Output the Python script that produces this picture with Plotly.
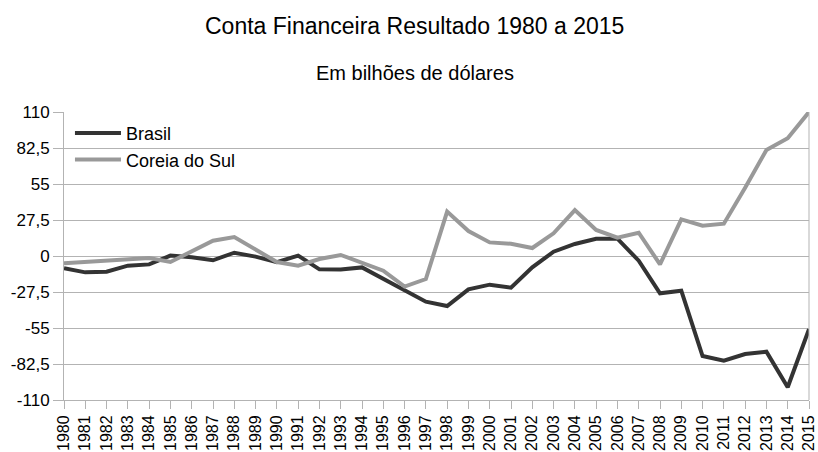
import plotly.graph_objects as go

years = list(range(1980, 2016))
brasil = [-9.4, -12.5, -12.0, -7.4, -6.4, 0.3, -1.0, -3.3, 2.5, -0.5, -4.8, 0.3,
          -10.2, -10.4, -8.7, -17.6, -26.7, -34.9, -38.2, -25.5, -21.9, -24.2, -8.7, 3.3,
          9.2, 13.2, 13.2, -3.6, -28.5, -26.5, -76.4, -80.0, -74.9, -73.1, -100.3, -56.0]
coreia = [-5.6, -4.6, -4.0, -3.0, -1.5, -4.6, 3.3, 11.7, 14.5, 4.6, -4.6, -7.4,
          -2.3, 0.8, -5.6, -11.2, -23.4, -17.6, 33.9, 19.1, 10.4, 9.4, 6.1, 17.3,
          35.1, 19.9, 14.0, 17.8, -6.4, 28.0, 23.2, 24.7, 52.2, 81.0, 89.9, 110.0]
ytick_vals = [-110, -82.5, -55, -27.5, 0, 27.5, 55, 82.5, 110]
ytick_text = ["-110", "-82,5", "-55", "-27,5", "0", "27,5", "55", "82,5", "110"]

title = "Conta Financeira Resultado 1980 a 2015"
subtitle = "Em bilhões de dólares"

fig = go.Figure()
fig.add_trace(go.Scatter(x=years, y=brasil, mode="lines", name="Brasil",
                         line=dict(color="#333333", width=4)))
fig.add_trace(go.Scatter(x=years, y=coreia, mode="lines", name="Coreia do Sul",
                         line=dict(color="#999999", width=4)))

grid = "#b3b3b3"
fig.update_layout(
    width=818, height=452,
    margin=dict(l=64, r=9, t=112, b=52, autoexpand=False),
    paper_bgcolor="white", plot_bgcolor="white",
    font=dict(family="Liberation Sans, Arial, sans-serif", color="black", size=17),
    showlegend=True,
    legend=dict(x=0.008, y=0.99, xanchor="left", yanchor="top",
                bgcolor="rgba(0,0,0,0)", font=dict(size=18), itemwidth=46,
                tracegroupgap=0),
    xaxis=dict(range=[1980, 2015], tickmode="array", tickvals=years,
               ticktext=[str(y) for y in years], tickangle=-90,
               showgrid=False, zeroline=False, showline=True, linecolor=grid,
               linewidth=1, ticks="outside", ticklen=8, tickcolor=grid,
               tickfont=dict(size=16), automargin=False,
               ticklabeloverflow="allow"),
    yaxis=dict(range=[-110, 110], tickmode="array", tickvals=ytick_vals,
               ticktext=ytick_text, showgrid=True, gridcolor=grid, gridwidth=1,
               zeroline=False, showline=True, linecolor=grid, linewidth=1,
               ticks="outside", ticklen=10, tickcolor=grid,
               tickfont=dict(size=17), automargin=False,
               ticklabeloverflow="allow"),
    shapes=[dict(type="line", xref="paper", yref="paper", x0=1, x1=1, y0=0, y1=1,
                 line=dict(color=grid, width=1))],
    annotations=[
        dict(text=title, xref="paper", yref="paper", x=0.471, y=1.30,
             xanchor="center", yanchor="middle", showarrow=False,
             font=dict(size=23, color="black")),
        dict(text=subtitle, xref="paper", yref="paper", x=0.471, y=1.137,
             xanchor="center", yanchor="middle", showarrow=False,
             font=dict(size=20, color="black")),
    ],
)

fig.write_html("out.html", config={"displayModeBar": False},
               post_script="document.body.style.margin='0';document.body.style.overflow='hidden';")
